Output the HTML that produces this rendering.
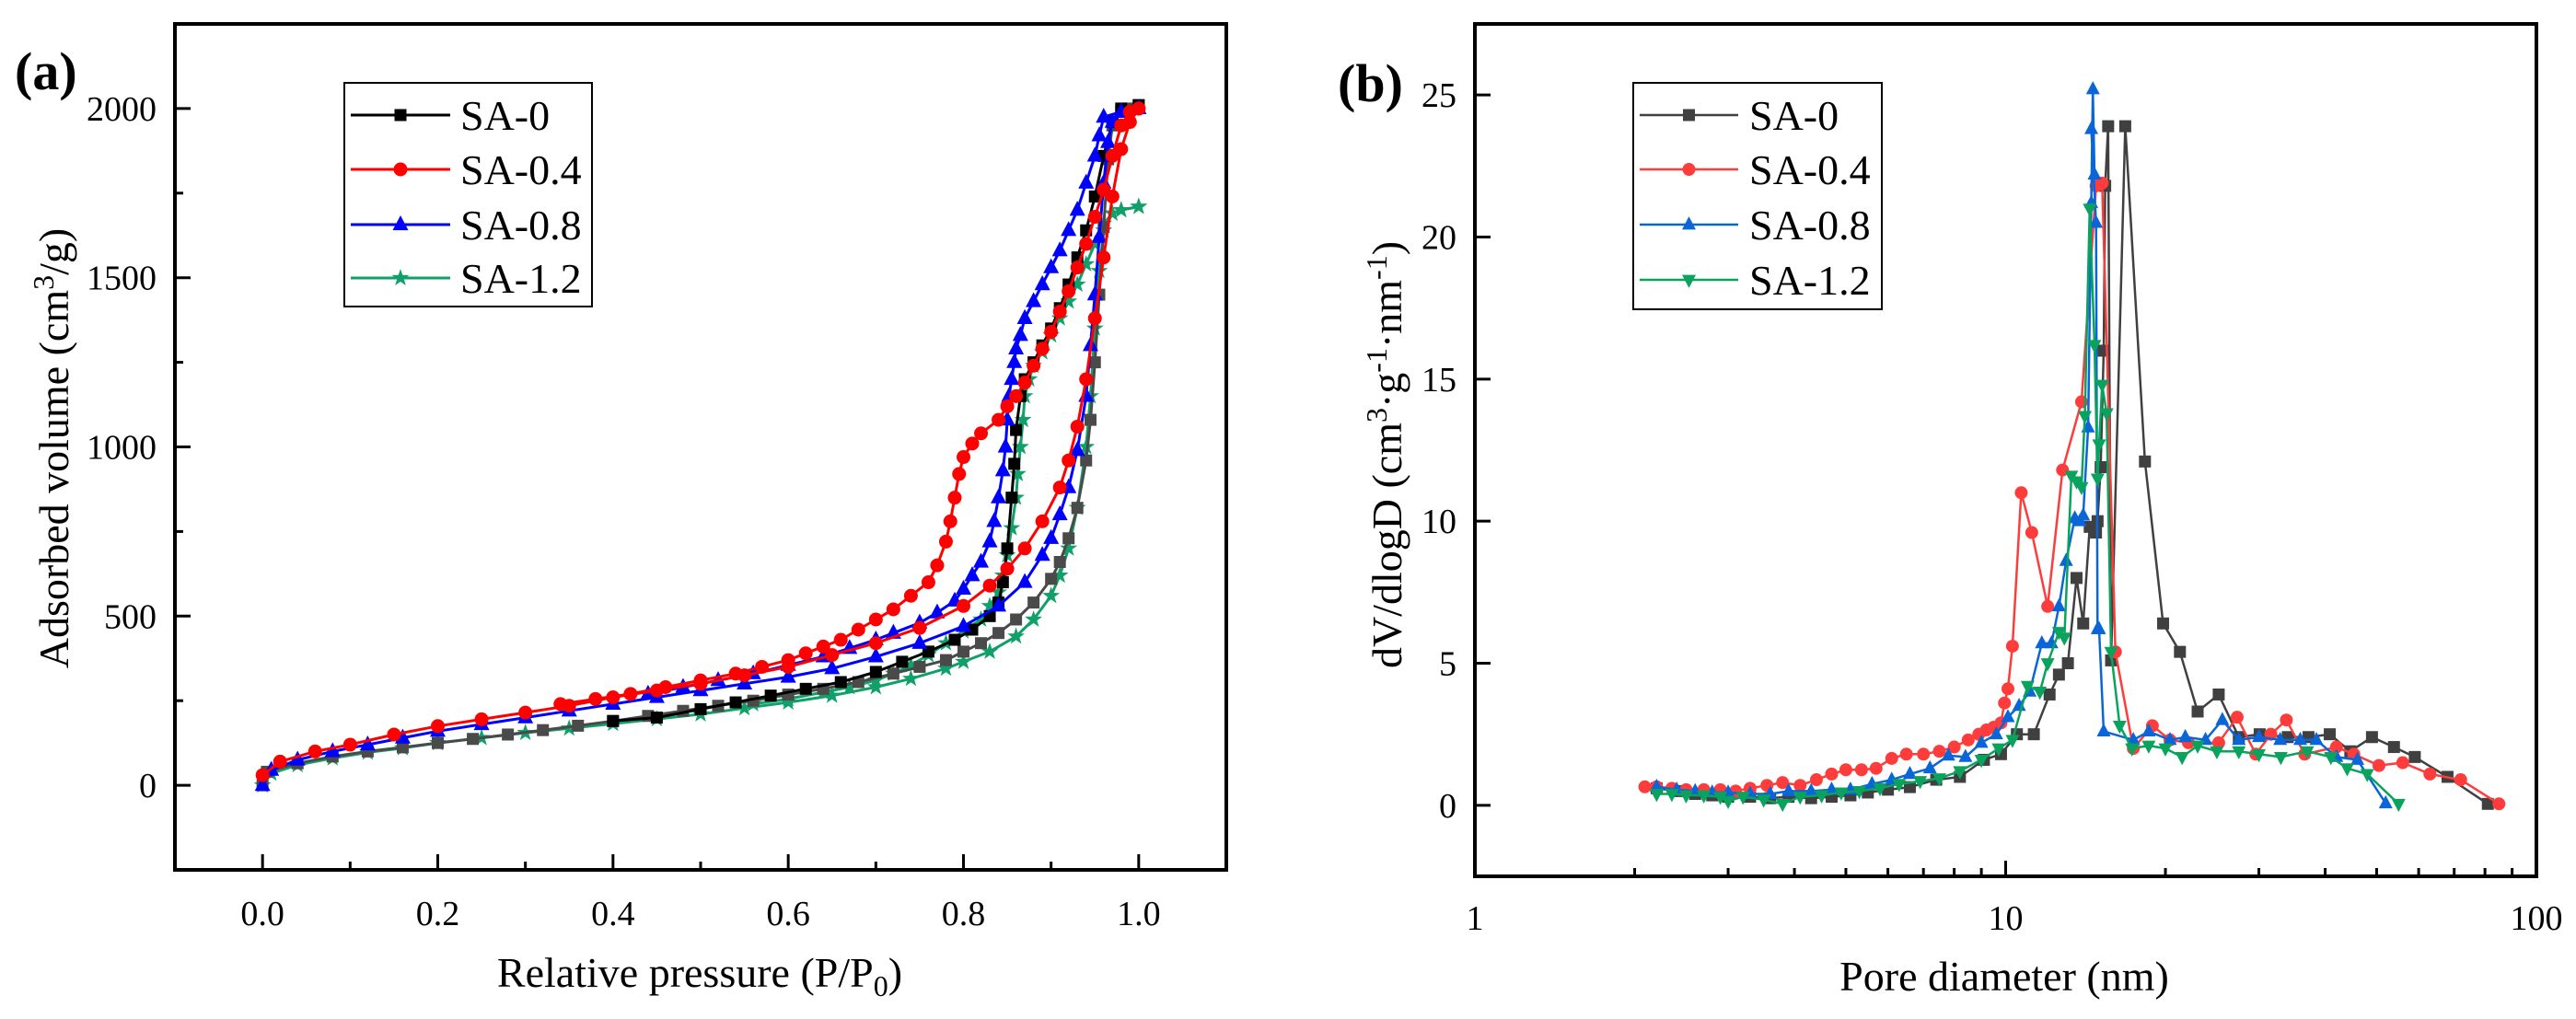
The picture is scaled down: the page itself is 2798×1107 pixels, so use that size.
<!DOCTYPE html>
<html><head><meta charset="utf-8"><style>
html,body{margin:0;padding:0;background:#fff;}
svg{display:block;}
svg text{font-family:"Liberation Serif","DejaVu Serif",serif;}
</style></head><body>
<svg id="fig" width="2798" height="1107" viewBox="0 0 2798 1107" xmlns="http://www.w3.org/2000/svg" font-family="Liberation Serif, DejaVu Serif, serif"></svg>
<script>
// ---------- Panel (a) data ----------
const a0AdsP=[0,0.005,0.04,0.08,0.12,0.16,0.2,0.24,0.28,0.32,0.36,0.4,0.44,0.48,0.52,0.56,0.6,0.64,0.68,0.72,0.75,0.78,0.8,0.82,0.84,0.86,0.88,0.9,0.91,0.92,0.93,0.94,0.945,0.95,0.955,0.96,0.965,0.97,0.98,0.99,1.0];
const a0AdsV=[0,40,65,85,100,112,125,137,150,163,176,190,205,220,235,250,268,285,305,330,350,370,395,420,450,490,540,610,660,730,820,960,1080,1250,1450,1650,1850,1950,1990,2000,2010];
const a0DesP=[1.0,0.98,0.97,0.96,0.95,0.94,0.93,0.92,0.91,0.9,0.89,0.88,0.87,0.865,0.86,0.858,0.855,0.85,0.845,0.84,0.83,0.81,0.79,0.76,0.73,0.7,0.66,0.62,0.58,0.54,0.5,0.45,0.4];
const a0DesV=[2010,2000,1960,1860,1740,1640,1560,1480,1410,1350,1300,1250,1200,1150,1050,950,850,700,600,540,500,460,430,395,365,335,305,285,265,245,225,200,190];
const a4AdsP=[0,0.02,0.06,0.1,0.15,0.2,0.25,0.3,0.35,0.4,0.45,0.5,0.55,0.6,0.65,0.7,0.75,0.8,0.83,0.85,0.87,0.89,0.91,0.92,0.93,0.94,0.95,0.96,0.97,0.98,0.99,1.0];
const a4AdsV=[30,70,100,120,150,175,195,215,235,260,280,300,325,350,385,420,465,530,590,640,700,780,880,960,1060,1200,1380,1560,1740,1880,1960,2000];
const a4DesP=[1.0,0.99,0.98,0.97,0.96,0.95,0.94,0.93,0.92,0.91,0.9,0.89,0.88,0.87,0.86,0.85,0.84,0.82,0.81,0.8,0.795,0.79,0.785,0.78,0.77,0.76,0.74,0.72,0.7,0.68,0.66,0.64,0.62,0.6,0.57,0.54,0.5,0.46,0.42,0.38,0.34];
const a4DesV=[2000,1990,1950,1860,1760,1680,1600,1530,1460,1400,1340,1290,1240,1190,1150,1120,1080,1040,1010,970,920,850,780,720,650,600,560,520,490,460,430,410,390,370,350,330,310,290,270,255,240];
const a8AdsP=[0,0.01,0.04,0.08,0.12,0.16,0.2,0.25,0.3,0.35,0.4,0.45,0.5,0.55,0.6,0.65,0.7,0.75,0.8,0.84,0.87,0.89,0.9,0.91,0.92,0.93,0.94,0.945,0.95,0.955,0.96,0.965,0.97,0.98,1.0];
const a8AdsV=[0,45,75,100,120,140,160,180,200,220,240,260,280,300,320,345,380,420,470,530,600,680,730,800,880,990,1150,1300,1450,1620,1780,1900,1960,1990,2000];
const a8DesP=[1.0,0.98,0.96,0.955,0.95,0.94,0.93,0.92,0.91,0.9,0.89,0.88,0.87,0.865,0.86,0.858,0.855,0.852,0.85,0.848,0.845,0.84,0.835,0.83,0.82,0.81,0.8,0.79,0.77,0.75,0.72,0.7,0.67,0.64,0.6,0.56,0.52,0.48,0.44];
const a8DesV=[2000,1990,1975,1920,1860,1780,1700,1640,1580,1530,1480,1430,1380,1330,1290,1250,1200,1150,1080,1000,930,850,780,720,660,620,580,545,510,480,450,430,405,380,355,330,310,290,270];
const a12AdsP=[0,0.01,0.04,0.08,0.12,0.16,0.2,0.25,0.3,0.35,0.4,0.45,0.5,0.55,0.6,0.65,0.7,0.74,0.78,0.8,0.83,0.86,0.88,0.9,0.91,0.92,0.93,0.94,0.945,0.95,0.955,0.96,0.97,0.98,1.0];
const a12AdsV=[0,35,60,80,97,110,125,140,155,168,182,196,210,228,245,265,290,315,345,365,395,440,490,560,620,700,820,1000,1150,1350,1520,1640,1690,1700,1710];
const a12DesP=[1.0,0.98,0.97,0.96,0.95,0.94,0.93,0.92,0.91,0.9,0.89,0.88,0.875,0.87,0.868,0.865,0.862,0.86,0.855,0.85,0.845,0.84,0.83,0.82,0.8,0.78,0.76,0.74,0.72,0.7,0.67,0.64,0.6,0.56];
const a12DesV=[1710,1700,1690,1660,1600,1540,1480,1430,1380,1330,1280,1240,1200,1150,1080,1000,920,850,760,680,620,570,530,490,455,420,385,355,330,310,290,275,255,240];
const aXTicks=[0,0.2,0.4,0.6,0.8,1.0];
const aXLabels=["0.0","0.2","0.4","0.6","0.8","1.0"];
const aYTicks=[0,500,1000,1500,2000];
// ---------- Panel (b) data ----------
const b0D=[2.2,2.4,2.6,2.8,3.0,3.3,3.6,3.9,4.3,4.7,5.1,5.5,6.0,6.6,7.4,8.2,9.1,9.8,10.5,11.3,12.1,12.6,13.1,13.6,14.0,14.4,14.8,14.9,15.1,15.3,15.4,15.6,15.8,16.8,18.3,19.8,21.3,23.0,25.2,27.5,30.1,34.0,37.2,40.8,44.6,49,53.9,59,68,81];
const b0V=[0.6,0.5,0.4,0.35,0.3,0.3,0.25,0.3,0.25,0.3,0.35,0.45,0.55,0.64,0.9,1.0,1.6,1.8,2.5,2.5,3.9,4.6,5.0,8.0,6.4,9.8,9.6,10.0,11.9,16,21.8,23.9,5.1,23.9,12.1,6.4,5.4,3.3,3.9,2.4,2.5,2.4,2.4,2.5,1.9,2.4,2.05,1.7,1.0,0.05];
const b4D=[2.09,2.2,2.35,2.5,2.7,2.9,3.1,3.3,3.55,3.8,4.1,4.4,4.7,5.0,5.35,5.7,6.1,6.5,7.0,7.5,8.0,8.5,8.9,9.2,9.5,9.8,9.95,10.1,10.3,10.7,11.2,12.0,12.8,13.9,14.8,15.2,16.1,17.4,18.9,20.4,22.1,25.2,27.3,29.6,31.6,33.8,36.6,42,45.3,50.5,56,63,72,85];
const b4V=[0.65,0.65,0.6,0.55,0.55,0.55,0.5,0.6,0.7,0.8,0.7,0.9,1.1,1.25,1.25,1.3,1.65,1.8,1.8,1.9,2.05,2.3,2.5,2.65,2.75,2.9,3.6,4.1,5.6,11.0,9.6,7.0,11.8,14.2,21.8,21.9,5.4,2.0,2.8,2.3,2.2,2.2,3.1,1.8,2.5,3.0,1.8,2.05,1.8,1.4,1.5,1.1,0.9,0.05];
const b8D=[2.2,2.4,2.6,2.8,3.0,3.3,3.6,3.9,4.3,4.7,5.1,5.6,6.1,6.6,7.2,7.8,8.4,9.0,9.6,10.1,10.6,11.1,11.7,12.2,12.6,13.0,13.5,13.8,14.0,14.3,14.5,14.6,14.7,14.5,14.8,14.9,15.0,15.3,17.4,18.6,20.4,21.8,23.8,25.6,27.5,30,32.9,35.9,38.5,42,46,52];
const b8V=[0.65,0.55,0.5,0.45,0.45,0.4,0.4,0.5,0.5,0.55,0.55,0.75,0.9,1.1,1.3,1.75,1.7,2.2,2.5,3.1,3.5,4.0,5.7,5.7,7.0,8.6,10.1,10.0,10.2,13.3,21.2,25.2,22.2,23.8,20.5,6.2,6.2,2.6,2.3,2.6,2.3,2.4,2.3,3.0,2.3,2.4,2.3,2.3,2.3,1.7,1.6,0.07];
const b12D=[2.2,2.35,2.5,2.7,2.9,3.0,3.2,3.5,3.8,4.1,4.5,4.9,5.3,5.8,6.3,6.9,7.5,8.2,9.0,9.7,10.3,11.0,11.6,12.0,12.6,12.9,13.3,13.6,13.9,14.1,14.4,14.7,14.9,15.0,15.2,15.5,15.8,16.4,17.3,18.6,20,21.5,23,25,27.5,30,33,37,41,44,48,55];
const b12V=[0.4,0.4,0.35,0.35,0.3,0.15,0.3,0.2,0.05,0.3,0.35,0.45,0.5,0.6,0.75,0.85,0.95,1.2,1.6,2.0,2.3,4.2,4.0,5.0,6.1,5.9,11.6,11.4,11.2,13.7,21.0,16.2,11.5,12.7,14.8,13.8,5.4,2.8,2.0,2.1,2.0,1.7,2.1,1.9,1.9,1.8,1.7,1.9,1.7,1.3,1.1,0.05];
const bXTicks=[1,10,100];
const bXLabels=["1","10","100"];
const bYTicks=[0,5,10,15,20,25];
const legendNames=["SA-0","SA-0.4","SA-0.8","SA-1.2"];

const NS="http://www.w3.org/2000/svg";
const FONT='"Liberation Serif","DejaVu Serif",serif';
const svg=document.getElementById('fig');
function mk(tag,attrs,parent){const e=document.createElementNS(NS,tag);for(const k in attrs)e.setAttribute(k,attrs[k]);(parent||svg).appendChild(e);return e;}

const A={l:190,r:1332,t:26,b:945,x0:-0.1,x1:1.1,y0:-250,y1:2250};
const B={l:1602,r:2755,t:26,b:952,lx0:0,lx1:2,y0:-2.5,y1:27.5};
function ax(p){return A.l+(p-A.x0)/(A.x1-A.x0)*(A.r-A.l);}
function ay(v){return A.b-(v-A.y0)/(A.y1-A.y0)*(A.b-A.t);}
function bx(d){return B.l+(Math.log10(d)-B.lx0)/(B.lx1-B.lx0)*(B.r-B.l);}
function by(v){return B.b-(v-B.y0)/(B.y1-B.y0)*(B.b-B.t);}

function marker(g,type,x,y,color,s){
  let e;
  if(type==='sq'){e=mk('rect',{x:x-s/2,y:y-s/2,width:s,height:s,fill:color},g);}
  else if(type==='ci'){e=mk('circle',{cx:x,cy:y,r:s/2,fill:color},g);}
  else if(type==='tu'){const h=s*0.95;e=mk('polygon',{points:`${x},${y-h*0.62} ${x-s/2},${y+h*0.38} ${x+s/2},${y+h*0.38}`,fill:color},g);}
  else if(type==='td'){const h=s*0.95;e=mk('polygon',{points:`${x},${y+h*0.62} ${x-s/2},${y-h*0.38} ${x+s/2},${y-h*0.38}`,fill:color},g);}
  else if(type==='st'){let pts=[];for(let i=0;i<10;i++){const r=i%2?s*0.22:s*0.55;const an=-Math.PI/2+i*Math.PI/5;pts.push((x+r*Math.cos(an)).toFixed(1)+','+(y+r*Math.sin(an)).toFixed(1));}e=mk('polygon',{points:pts.join(' '),fill:color},g);}
  return e;
}
function series(name,xs,ys,fx,fy,color,type,s,lw){
  const g=mk('g',{});
  
  
  const pts=xs.map((x,i)=>fx(x).toFixed(1)+','+fy(ys[i]).toFixed(1)).join(' ');
  mk('polyline',{points:pts,fill:'none',stroke:color,'stroke-width':lw,'stroke-linejoin':'round'},g);
  xs.forEach((x,i)=>{const m=marker(g,type,fx(x),fy(ys[i]),color,s);
    
    });
}
function text(str,x,y,size,attrs,name){
  const t=mk('text',Object.assign({x:x,y:y,'font-size':size,fill:'#000','font-family':FONT},attrs||{}));
  t.textContent=str;
  
  
  return t;
}

(function(){
  const g=mk('g',{});
  
  
  mk('rect',{x:A.l,y:A.t,width:A.r-A.l,height:A.b-A.t,fill:'none',stroke:'#000','stroke-width':4},g);
  for(let p=0.1;p<1.1;p+=0.2){mk('line',{x1:ax(p),x2:ax(p),y1:A.b,y2:A.b-9,stroke:'#000','stroke-width':3},g);}
  aXTicks.forEach((p,i)=>{mk('line',{x1:ax(p),x2:ax(p),y1:A.b,y2:A.b-17,stroke:'#000','stroke-width':3},g);
    text(aXLabels[i],ax(p),1005,38,{'text-anchor':'middle'},'x-tick-label');});
  for(let v=250;v<2250;v+=500){mk('line',{x1:A.l,x2:A.l+9,y1:ay(v),y2:ay(v),stroke:'#000','stroke-width':3},g);}
  aYTicks.forEach(v=>{mk('line',{x1:A.l,x2:A.l+17,y1:ay(v),y2:ay(v),stroke:'#000','stroke-width':3},g);
    text(String(v),A.l-20,ay(v)+13,38,{'text-anchor':'end'},'y-tick-label');});
})();
const xa=text('',760,1072,46,{'text-anchor':'middle'},'x-axis-title-a');
xa.innerHTML='Relative pressure (P/P<tspan dy="10" font-size="32">0</tspan><tspan dy="-10">)</tspan>';
const ya=text('',0,0,46,{'text-anchor':'middle',transform:'translate(74,487) rotate(-90)'},'y-axis-title-a');
ya.innerHTML='Adsorbed volume (cm<tspan dy="-16" font-size="32">3</tspan><tspan dy="16">/g)</tspan>';
text('(a)',16,97,58,{'font-weight':'bold'},'panel-label-a');

series('sa-1.2-adsorption',a12AdsP,a12AdsV,ax,ay,'#12a06a','st',18,3);
series('sa-1.2-desorption',a12DesP,a12DesV,ax,ay,'#12a06a','st',18,3);
series('sa-0-adsorption',a0AdsP,a0AdsV,ax,ay,'#4a4a4a','sq',13,3);
series('sa-0-desorption',a0DesP,a0DesV,ax,ay,'#000','sq',13,3);
series('sa-0.8-adsorption',a8AdsP,a8AdsV,ax,ay,'#0000ff','tu',17,3);
series('sa-0.8-desorption',a8DesP,a8DesV,ax,ay,'#0000ff','tu',17,3);
series('sa-0.4-adsorption',a4AdsP,a4AdsV,ax,ay,'#ff0000','ci',15,3);
series('sa-0.4-desorption',a4DesP,a4DesV,ax,ay,'#ff0000','ci',15,3);

(function(){
  const g=mk('g',{});
  
  
  mk('rect',{x:B.l,y:B.t,width:B.r-B.l,height:B.b-B.t,fill:'none',stroke:'#000','stroke-width':4},g);
  [1,10].forEach(dec=>{for(let k=2;k<=9;k++){const x=bx(dec*k);mk('line',{x1:x,x2:x,y1:B.b,y2:B.b-9,stroke:'#000','stroke-width':3},g);}});
  bXTicks.forEach((d,i)=>{mk('line',{x1:bx(d),x2:bx(d),y1:B.b,y2:B.b-17,stroke:'#000','stroke-width':3},g);
    text(bXLabels[i],bx(d),1010,38,{'text-anchor':'middle'},'x-tick-label');});
  bYTicks.forEach(v=>{mk('line',{x1:B.l,x2:B.l+17,y1:by(v),y2:by(v),stroke:'#000','stroke-width':3},g);
    text(String(v),B.l-20,by(v)+13,38,{'text-anchor':'end'},'y-tick-label');});
})();
text('Pore diameter (nm)',2177,1076,46,{'text-anchor':'middle'},'x-axis-title-b');
const yb=text('',0,0,46,{'text-anchor':'middle',transform:'translate(1522,494) rotate(-90)'},'y-axis-title-b');
yb.innerHTML='dV/dlogD (cm<tspan dy="-16" font-size="32">3</tspan><tspan dy="16">·g</tspan><tspan dy="-16" font-size="32">-1</tspan><tspan dy="16">·nm</tspan><tspan dy="-16" font-size="32">-1</tspan><tspan dy="16">)</tspan>';
text('(b)',1453,110,58,{'font-weight':'bold'},'panel-label-b');

series('sa-0-psd',b0D,b0V,bx,by,'#404040','sq',13,2.5);
series('sa-0.4-psd',b4D,b4V,bx,by,'#ff3c3c','ci',14,2.5);
series('sa-0.8-psd',b8D,b8V,bx,by,'#0a66d8','tu',15,2.5);
series('sa-1.2-psd',b12D,b12V,bx,by,'#0aa35e','td',15,2.5);

function legend(name,x0,y0,w,h,rows,colors,types,sizes,lw,lineL,lineR,txtX){
  const g=mk('g',{});
  
  
  mk('rect',{x:x0,y:y0,width:w,height:h,fill:'#fff',stroke:'#000','stroke-width':2},g);
  rows.forEach((ry,i)=>{
    const e=mk('g',{},g);
    
    
    mk('line',{x1:lineL,x2:lineR,y1:ry,y2:ry,stroke:colors[i],'stroke-width':lw},e);
    marker(e,types[i],(lineL+lineR)/2,ry,colors[i],sizes[i]);
    const t=mk('text',{x:txtX,y:ry+16,'font-size':46,fill:'#000','font-family':FONT},e);
    t.textContent=legendNames[i];
  });
}
legend('legend-a',374,90,269,243,[125,184,244,302],['#000','#ff0000','#0000ff','#12a06a'],['sq','ci','tu','st'],[13,15,17,18],3,381,489,500);
legend('legend-b',1774,90,270,246,[125,184,244,304],['#404040','#ff3c3c','#0a66d8','#0aa35e'],['sq','ci','tu','td'],[13,14,15,15],2.5,1781,1888,1900);
</script>
</body></html>
